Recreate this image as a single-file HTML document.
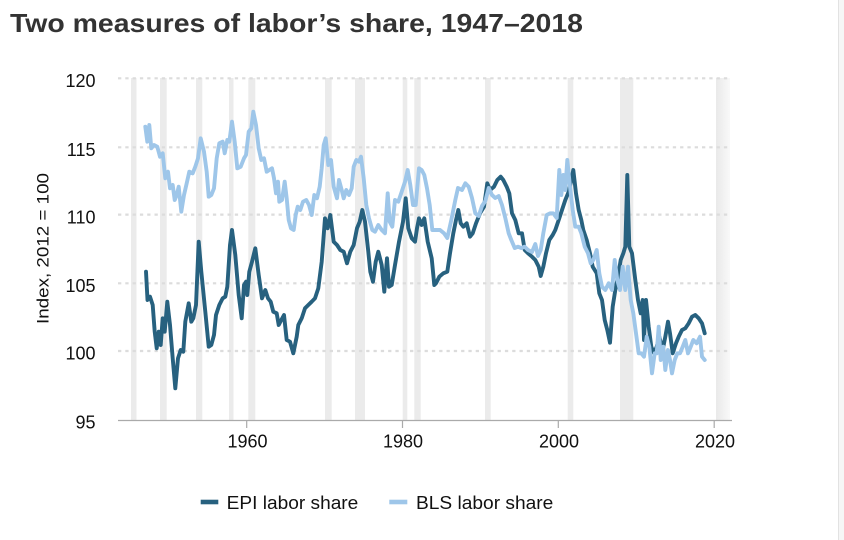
<!DOCTYPE html>
<html>
<head>
<meta charset="utf-8">
<style>
  html,body{margin:0;padding:0;background:#fff;}
  svg{display:block;}
  text{font-family:"Liberation Sans",Arial,sans-serif;}
</style>
</head>
<body>
<svg width="844" height="540" viewBox="0 0 844 540" xmlns="http://www.w3.org/2000/svg">
  <defs>
    <linearGradient id="fg" x1="0" x2="1" y1="0" y2="0">
      <stop offset="0" stop-color="#e9e9e9"/>
      <stop offset="1" stop-color="#f9f9f9"/>
    </linearGradient>
  </defs>
  <rect x="0" y="0" width="844" height="540" fill="#fff"/>
  <rect x="839" y="0" width="5" height="540" fill="#f6f6f6"/>
  <line x1="838.5" y1="0" x2="838.5" y2="540" stroke="#e2e2e2" stroke-width="1"/>

  <!-- Title -->
  <text x="10" y="32" font-size="26" font-weight="bold" fill="#333" textLength="573" lengthAdjust="spacingAndGlyphs">Two measures of labor’s share, 1947–2018</text>

  <!-- recession bands -->
  <g fill="#ebebeb">
    <rect x="131" y="78" width="5.5" height="342"/>
    <rect x="160" y="78" width="6.7" height="342"/>
    <rect x="196" y="78" width="6.3" height="342"/>
    <rect x="229" y="78" width="4.5" height="342"/>
    <rect x="248.3" y="78" width="7" height="342"/>
    <rect x="325" y="78" width="6.7" height="342"/>
    <rect x="355" y="78" width="10" height="342"/>
    <rect x="402.7" y="78" width="4.6" height="342"/>
    <rect x="414.3" y="78" width="6.4" height="342"/>
    <rect x="485" y="78" width="5.7" height="342"/>
    <rect x="567.7" y="78" width="5.6" height="342"/>
    <rect x="620" y="78" width="13.3" height="342"/>
  </g>
  <rect x="716" y="78" width="14" height="342" fill="url(#fg)"/>

  <!-- gridlines -->
  <g stroke="#dcdcdc" stroke-width="2.2" stroke-dasharray="3.3 4">
    <line x1="118" y1="78.3" x2="731" y2="78.3"/>
    <line x1="118" y1="147.3" x2="731" y2="147.3"/>
    <line x1="118" y1="214.6" x2="731" y2="214.6"/>
    <line x1="118" y1="283.3" x2="731" y2="283.3"/>
    <line x1="118" y1="351" x2="731" y2="351"/>
  </g>

  <!-- x axis -->
  <line x1="118" y1="420.5" x2="732" y2="420.5" stroke="#aaa" stroke-width="1.2"/>
  <g stroke="#aaa" stroke-width="1.2">
    <line x1="246.7" y1="420" x2="246.7" y2="428"/>
    <line x1="402.5" y1="420" x2="402.5" y2="428"/>
    <line x1="558.3" y1="420" x2="558.3" y2="428"/>
    <line x1="714.2" y1="420" x2="714.2" y2="428"/>
  </g>
  <g font-size="18" fill="#111" text-anchor="middle">
    <text x="247.5" y="447.5">1960</text>
    <text x="403" y="447.5">1980</text>
    <text x="559" y="447.5">2000</text>
    <text x="715" y="447.5">2020</text>
  </g>

  <!-- y labels -->
  <g font-size="18" fill="#111" text-anchor="end">
    <text x="95.5" y="87">120</text>
    <text x="95.5" y="156">115</text>
    <text x="95.5" y="223.3">110</text>
    <text x="95.5" y="292">105</text>
    <text x="95.5" y="359.7">100</text>
    <text x="95.5" y="428.5">95</text>
  </g>
  <text transform="translate(48.5,248.5) rotate(-90)" font-size="17" fill="#111" text-anchor="middle" textLength="151" lengthAdjust="spacingAndGlyphs">Index, 2012 = 100</text>

  <!-- EPI series -->
  <polyline fill="none" stroke="#27617f" stroke-width="3.9" stroke-linejoin="round" stroke-linecap="round" points="
146,271.7 147.5,300 150,296.7 152.7,305 154.7,331.7 156.7,348.3 158.7,331.7 160.7,345 162.7,318.3 164.7,331.7 167.3,301.7 170,325 172.7,358.3 175.3,388.3 178,358.3 180.7,350 183.3,351.7 185.3,321.7 188.7,303.3 191.3,321.7 193.3,318.3 196,305 198.7,241.7 201.3,271.7 205.3,311.7 208.7,346.7 211.3,345 214,335 216,315 219.3,305 222.7,298.3 225.3,296.7 227.3,286.7 230,245 232,230 235.3,255 238.7,295 241.7,318.3 244,285 246,281.7 247.3,295 249.3,271.7 252,261.7 255.3,248.3 258.7,275 262,298.3 265.3,290 268,298.3 270.7,301.7 273.3,311.7 276.7,313.3 278.7,325 281.3,320 284,315 286.7,340 290,341.7 293.3,353.3 296.7,336.7 298.3,325 301.7,318.3 305,308.3 308.3,305 311.7,301.7 315,298.3 318.3,288.3 321.7,261.7 325,218.3 327.7,228.3 330.3,215 333.7,241.7 337,245 340.3,250 343.7,251.7 347,263.3 350.3,251.7 353.7,245 357,228.3 359.7,221.7 362.3,210 365,221.7 368.3,251.7 370.3,271.7 373,281.7 375.7,261.7 378.3,251.7 381.7,265 384.3,291.7 387,258.3 389,286.7 391.7,285 395,265 399,241.7 403,221.7 405.7,198.3 408.3,228.3 411.7,238.3 415,241.7 417,228.3 419,218.3 421.7,225 424.3,218.3 427.7,241.7 431.7,258.3 434.3,285 436,283.3 439.3,276.7 443.3,273.3 447.3,271.7 450,253.3 453.3,233.3 456,220 458.3,210 460.7,223.3 463.3,226.7 466.7,223.3 470,236.7 472.7,233.3 476,223.3 480,213.3 484,206.7 487.3,183.3 490,190 494,186.7 497.3,180 500.7,176.7 503.3,180 506.7,186.7 509.3,193.3 512,213.3 515.3,220 518.7,233.3 522,233.3 524.7,250 528,253.3 532,256.7 535.3,260 538.7,266.7 540.7,276 543.3,266.7 546,253.3 549.3,240 552.7,235 555.3,230 558.7,220 562,210 565.3,200 568.7,191.7 571.3,180 573.3,170 576,193.3 578.7,210 581.3,220 583.3,230 586.7,240 590,253.3 592.7,266.7 596.7,273.3 599.3,293.3 602,300 604.7,320 607.3,330 610,342.7 612.7,306.7 615.3,290 618,276.7 620.7,260 623.3,253.3 625.3,246.7 627.3,175 629.3,246.7 632,253.3 635.3,280 638,300 640.7,313.3 642.7,300 644,340 646,300 648.7,326.7 651.3,346.7 654,353.3 656.7,346.7 659.3,336.7 662.7,350 665.3,336.7 668,321.7 670,333.3 672.7,353.3 676,343.3 678.7,336.7 682,330 685.3,328.3 688.7,323.3 692,316.7 695.3,315 698.7,318.3 702,323.3 704.7,333.3"/>

  <!-- BLS series -->
  <polyline fill="none" stroke="#9ec6e9" stroke-width="3.9" stroke-linejoin="round" stroke-linecap="round" points="
145.3,126.7 147.3,141.7 149.3,125 151.3,148.3 154,145 157.3,146.7 160,156.7 162.7,153.3 165.3,178.3 168,171.7 170,188.3 172.7,185 174.7,200 176.7,195 178.7,186.7 181.3,211.7 184,195 186.7,183.3 189.3,171.7 192.7,173.3 195.3,166.7 198,158.3 200.7,138.3 204,151.7 206.7,171.7 208.7,196.7 211.3,195 214,188.3 216.7,158.3 219.3,143.3 222.7,141.7 224.7,153.3 227.3,140 229.3,141.7 232,121.7 234.7,141.7 237.3,168.3 240.7,166.7 244,158.3 246,155 248.7,131.7 251.3,128.3 253.3,111.7 256,125 258.7,148.3 261.3,160 264,158.3 266.7,171.7 269.3,170 272,168.3 274,178.3 276,193.3 278,181.7 279.3,201.7 282,200 284.7,181.7 286.7,198.3 288.7,220 291,228.3 293.7,230 295.7,215 297.7,206.7 300.3,210 303,201.7 306.3,200 309,205 311.7,215 314.3,195 317,198.3 319.7,186.7 321.7,168.3 323.7,145 325.7,138.3 328.3,165 331,160 333.7,186.7 337,198.3 339,180 341.7,190 343.7,198.3 346.3,190 349,195 351.7,188.3 353.7,166.7 356.3,160 359,161.7 361,156.7 363.7,178.3 366.3,205 369,218.3 372.3,230 375,231.7 378.3,225 381.7,230 385,233.3 387.7,193.3 389.7,221.7 392.3,226.7 395,200 398.3,201.7 401.7,191.7 405,181.7 407.7,170 410.3,185 413,205 415.7,205 419,168.3 421.7,170 424.3,175 427,188.3 429.7,205 432.3,230 436.7,230 440,230 444,233.3 447.3,238 451.3,220 455.3,200 458,188 462,190 465.3,183.3 468.7,186.7 472,198 475.3,213.3 478.7,216 482,206 485.3,201 488.7,188 492,195 495.3,198 498.7,196 502,205 505.3,218 508.7,233.3 511.3,240 514.7,248 518,246.7 521.3,248 524.7,246.7 528,250 532,252 535.3,244 538,256 540.7,250 543.3,233.3 546.7,215 550,213.3 553.3,213.3 556.7,218 559.3,170 561.3,195 563.3,175 565.3,190 567.3,160 570,186.7 572.7,210 575.3,226.7 578.7,226.7 581.3,233.3 584.7,246.7 588,253.3 590.7,263.3 593.3,260 596.7,250 599.3,273.3 602,286.7 605.3,290 608.7,283.3 612,290 614.7,260 617.3,280 620,290 622.7,266.7 625.3,290 628,266.7 630.7,300 633.3,313.3 636,333.3 638.7,353.3 641.3,353.3 644,356.7 646.7,336.7 649.3,346.7 652,373.3 654.7,353.3 656.7,353.3 658.7,326.7 660.7,360 663.3,346.7 665.3,370 668,350 670,360 672,373.3 674.7,360 677.3,353.3 680,353.3 682.7,346.7 685.3,340 688,353.3 690.7,346.7 693.3,340 696.7,343.3 700,336.7 702,356.7 704.7,360"/>

  <!-- Legend -->
  <rect x="200.7" y="499.7" width="17.6" height="4.6" fill="#27617f"/>
  <text x="226.7" y="509" font-size="18.5" fill="#111" textLength="131.6" lengthAdjust="spacingAndGlyphs">EPI labor share</text>
  <rect x="389.3" y="499.7" width="18" height="4.6" fill="#9ec6e9"/>
  <text x="416" y="509" font-size="18.5" fill="#111" textLength="137.3" lengthAdjust="spacingAndGlyphs">BLS labor share</text>
</svg>
</body>
</html>
